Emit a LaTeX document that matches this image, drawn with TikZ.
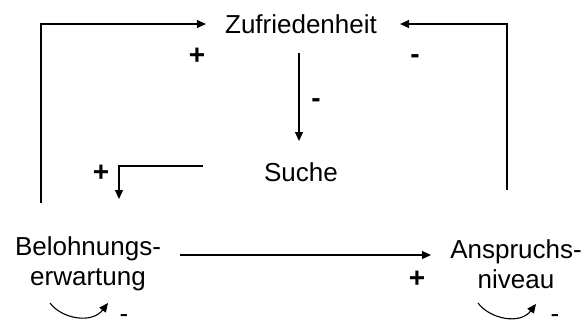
\documentclass[tikz,border=0pt]{standalone}
\usepackage{fontspec}
\setmainfont{Liberation Sans}
\usetikzlibrary{arrows.meta}
\begin{document}
\begin{tikzpicture}[x=1pt,y=-1pt,
  concept/.style={inner sep=0pt, align=center, font=\fontsize{26}{30}\selectfont},
  sign/.style={inner sep=0pt, font=\bfseries\fontsize{28}{30}\selectfont},
  loopsign/.style={inner sep=0pt, font=\fontsize{26}{30}\selectfont},
  arr/.style={line width=1.2pt, -{Triangle[length=9pt,width=8pt]}},
  loopline/.style={line width=1.1pt, -{Triangle[length=9pt,width=8pt]}}]
\useasboundingbox (0,0) rectangle (582,325);

% concepts
\node[concept] (zuf) at (301,24) {Zufriedenheit};
\node[concept] (such) at (301,172) {Suche};
\node[concept] (bel) at (88,264) {Belohnungs-\\erwartung};
\node[concept] (ans) at (516,264) {Anspruchs-\\niveau};

% free ends of the feedback lines
\coordinate (belTop) at (41,203);
\coordinate (ansTop) at (507,190);
\coordinate (zufBelow) at (299,53);
\coordinate (suchAbove) at (299,141);
\coordinate (suchLeft) at (203,166);
\coordinate (belAbove) at (119,199);
\coordinate (belRight) at (180,255);
\coordinate (ansLeft) at (431,255);
\coordinate (belLoopA) at (50,303);
\coordinate (belLoopB) at (108,303);
\coordinate (ansLoopA) at (478,303);
\coordinate (ansLoopB) at (536,304);

% connectors
\draw[arr, shorten >=19pt] (belTop) |- (zuf.west);
\draw[arr, shorten >=23pt] (ansTop) |- (zuf.east);
\draw[arr] (zufBelow) -- (suchAbove);
\draw[arr] (suchLeft) -| (belAbove);
\draw[arr] (belRight) -- (ansLeft);
\draw[loopline] (belLoopA) .. controls (62,319) and (92,324) .. (belLoopB);
\draw[loopline] (ansLoopA) .. controls (490,319) and (520,325) .. (ansLoopB);

% polarity signs
\node[sign] (p1) at (197,56) {+};
\node[sign] (m1) at (415,59) {-};
\node[sign] (m2) at (316,103) {-};
\node[sign] (p2) at (101,173) {+};
\node[sign] (p3) at (417,279) {+};
\node[loopsign] (m3) at (124,319) {-};
\node[loopsign] (m4) at (555,319) {-};
\end{tikzpicture}
\end{document}
